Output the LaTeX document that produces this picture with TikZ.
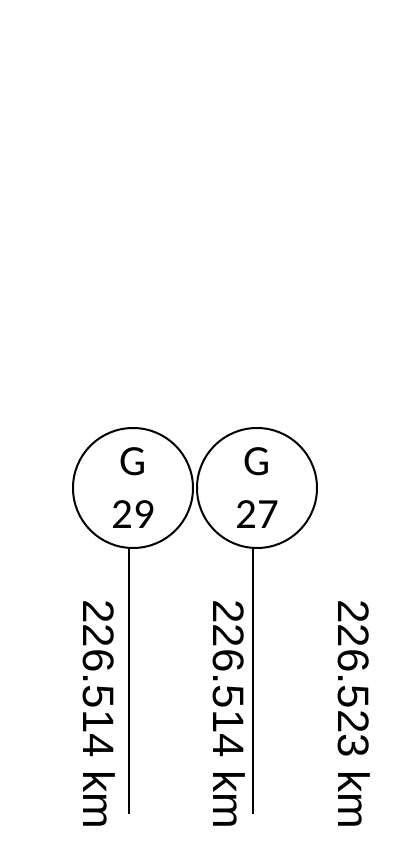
\documentclass[tikz,border=0pt]{standalone}
\usepackage{fontspec}
\setmainfont{Liberation Sans}
\newfontfamily\genfont{Carlito}
\begin{document}
\begin{tikzpicture}[x=1pt, y=-1pt, gen/.style={draw, circle, line width=2pt, minimum size=120pt, inner sep=0pt, align=center, font=\genfont\fontsize{43}{53}\selectfont}, dist/.style={rotate=-90, anchor=base west, inner sep=0pt, font=\fontsize{44}{52}\selectfont}, feeder/.style={line width=2pt}]
        \useasboundingbox (0,0) rectangle (404,858);

        % generators
        \node[gen] (g29) at (133,488) {G\\29};
        \node[gen] (g27) at (257,488) {G\\27};

        \coordinate (e29) at (129,814);
        \coordinate (e27) at (253,814);
        \draw[feeder] (g29.south -| e29) -- (e29);
        \draw[feeder] (g27.south -| e27) -- (e27);

        % distances
        \node[dist] (d29) at (83,599) {226.514 km};
        \node[dist] (d27) at (213,599) {226.514 km};
        \node[dist] (d0) at (338,599) {226.523 km};
    \end{tikzpicture}
\end{document}
